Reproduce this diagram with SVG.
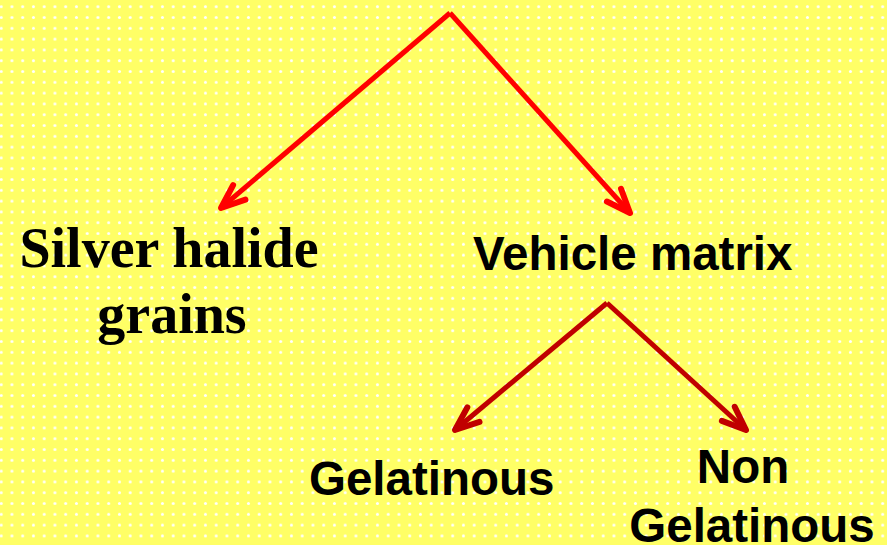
<svg xmlns="http://www.w3.org/2000/svg" width="887" height="545" viewBox="0 0 887 545">
  <defs>
    <pattern id="dots" x="6.6" y="1.3" width="10.75" height="10.8" patternUnits="userSpaceOnUse">
      <rect width="10.75" height="10.8" fill="#FFFF66"/>
      <circle cx="5.37" cy="5.4" r="1.5" fill="#FFFFFF"/>
    </pattern>
    <marker id="arrRed" markerUnits="userSpaceOnUse" orient="auto" refX="0" refY="0" markerWidth="40" markerHeight="30" viewBox="-32 -15 40 30" overflow="visible">
      <path d="M -24,-9.5 L 0,0 L -24,9.5" fill="none" stroke="#FF0000" stroke-width="6" stroke-linecap="round" stroke-linejoin="round"/>
    </marker>
    <marker id="arrDark" markerUnits="userSpaceOnUse" orient="auto" refX="0" refY="0" markerWidth="40" markerHeight="30" viewBox="-32 -15 40 30" overflow="visible">
      <path d="M -24,-9.5 L 0,0 L -24,9.5" fill="none" stroke="#C00000" stroke-width="6" stroke-linecap="round" stroke-linejoin="round"/>
    </marker>
  </defs>
  <style>
    .serif { font-family: "Liberation Serif", "Times New Roman", serif; font-weight: bold; font-size: 56px; fill: #000000; }
    .sans { font-family: "Liberation Sans", Arial, sans-serif; font-weight: bold; font-size: 47.5px; fill: #000000; }
    .red { fill: none; stroke: #FF0000; stroke-width: 5; stroke-linejoin: miter; }
    .dark { fill: none; stroke: #C00000; stroke-width: 5; stroke-linejoin: miter; }
  </style>
  <rect x="0" y="0" width="887" height="545" fill="url(#dots)"/>

  <g id="connectors">
    <path class="red" d="M 450,13 L 221,208" marker-end="url(#arrRed)"/>
    <path class="red" d="M 450,13 L 630,213" marker-end="url(#arrRed)"/>
    <path class="dark" d="M 607,303 L 455,430" marker-end="url(#arrDark)"/>
    <path class="dark" d="M 607,303 L 746,430" marker-end="url(#arrDark)"/>
  </g>

  <g id="node-silver-halide">
    <text class="serif" x="169" y="267" text-anchor="middle">Silver halide</text>
    <text class="serif" x="172" y="333" text-anchor="middle">grains</text>
  </g>
  <g id="node-vehicle-matrix">
    <text class="sans" x="473" y="270">Vehicle matrix</text>
  </g>
  <g id="node-gelatinous">
    <text class="sans" x="309" y="495">Gelatinous</text>
  </g>
  <g id="node-non-gelatinous">
    <text class="sans" x="743" y="483" text-anchor="middle">Non</text>
    <text class="sans" x="752" y="542" text-anchor="middle">Gelatinous</text>
  </g>
</svg>
